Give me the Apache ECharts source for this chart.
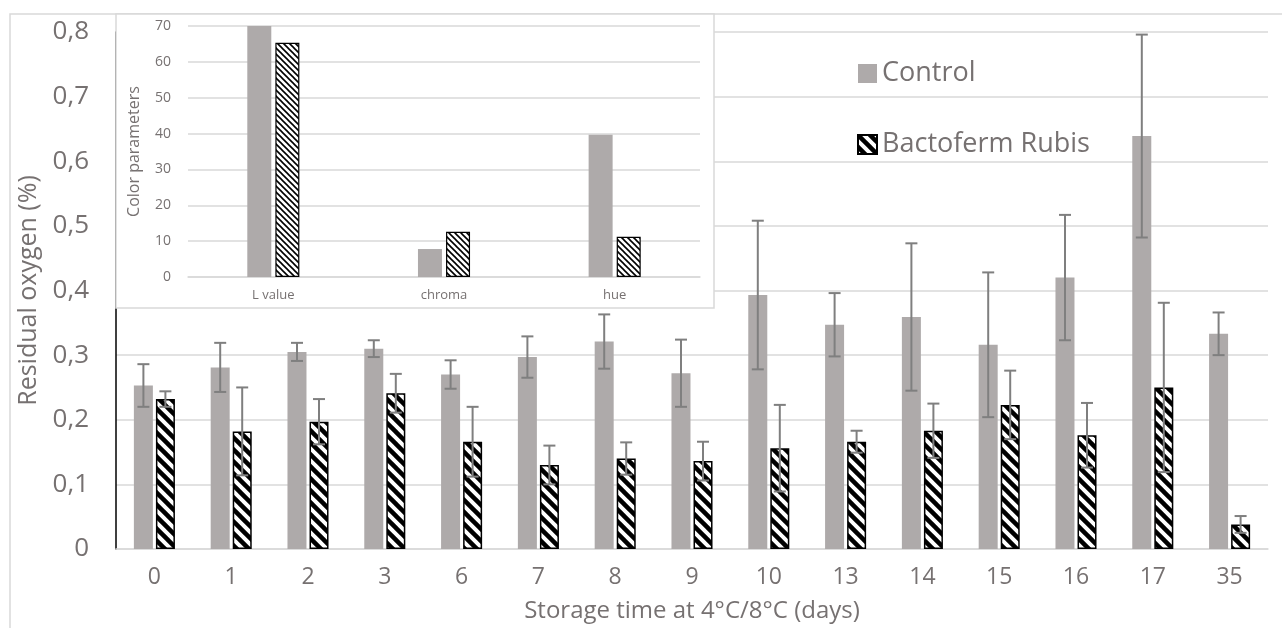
<!DOCTYPE html>
<html>
<head>
<meta charset="utf-8">
<title>Residual oxygen</title>
<script src="https://cdn.jsdelivr.net/npm/echarts@6/dist/echarts.min.js"></script>
<style>
  html, body { margin: 0; padding: 0; background: #fff; }
  #main { width: 1282px; height: 628px; }
</style>
</head>
<body>
<div id="main"></div>
<script>
// 主图数据
var days = ['0', '1', '2', '3', '6', '7', '8', '9', '10', '13', '14', '15', '16', '17', '35'];
var controlMean = [0.253, 0.281, 0.305, 0.310, 0.270, 0.297, 0.321, 0.272, 0.393, 0.347, 0.359, 0.316, 0.420, 0.639, 0.333];
var controlSd = [0.033, 0.038, 0.014, 0.013, 0.022, 0.032, 0.042, 0.052, 0.115, 0.049, 0.114, 0.112, 0.097, 0.157, 0.033];
var rubisMean = [0.232, 0.182, 0.197, 0.241, 0.166, 0.130, 0.140, 0.136, 0.156, 0.166, 0.183, 0.223, 0.176, 0.250, 0.038];
var rubisSd = [0.012, 0.068, 0.035, 0.030, 0.054, 0.030, 0.025, 0.030, 0.067, 0.017, 0.042, 0.053, 0.050, 0.131, 0.013];

// 小图数据
var colorParams = ['L value', 'chroma', 'hue'];
var colorControl = [70, 7.8, 39.7];
var colorRubis = [65.3, 12.6, 11.2];

var textColor = '#767171';
var gridColor = '#d9d9d9';
var font = 'Open Sans';

// 斜线填充
function stripes(size, width) {
  var c = document.createElement('canvas');
  c.width = size;
  c.height = size;
  var ctx = c.getContext('2d');
  ctx.fillStyle = '#fff';
  ctx.fillRect(0, 0, size, size);
  ctx.strokeStyle = '#000';
  ctx.lineWidth = width;
  for (var o = -size; o <= size; o += size) {
    ctx.beginPath();
    ctx.moveTo(o - 2, -2);
    ctx.lineTo(o + size + 2, size + 2);
    ctx.stroke();
  }
  return c;
}
var bigHatch = { image: stripes(12, 4.5), repeat: 'repeat' };
var smallHatch = { image: stripes(6, 1.6), repeat: 'repeat' };

function errData(mean, sd) {
  return mean.map(function (m, i) {
    return [i, m - sd[i], m + sd[i]];
  });
}

function errorBars(offset) {
  return function (params, api) {
    var lo = api.coord([api.value(0), api.value(1)]);
    var hi = api.coord([api.value(0), api.value(2)]);
    var x = lo[0] + offset;
    var style = { stroke: '#7f7f7f', lineWidth: 2 };
    return {
      type: 'group',
      children: [
        { type: 'line', shape: { x1: x, y1: hi[1], x2: x, y2: lo[1] }, style: style },
        { type: 'line', shape: { x1: x - 6, y1: hi[1], x2: x + 6, y2: hi[1] }, style: style },
        { type: 'line', shape: { x1: x - 6, y1: lo[1], x2: x + 6, y2: lo[1] }, style: style }
      ]
    };
  };
}

var myChart = echarts.init(document.getElementById('main'));
myChart.setOption({
  animation: false,
  textStyle: { fontFamily: font },
  graphic: [
    {
      type: 'rect', z: -10,
      shape: { x: 10, y: 14, width: 1300, height: 700 },
      style: { fill: null, stroke: gridColor, lineWidth: 1.5 }
    },
    {
      type: 'rect', z: 50,
      shape: { x: 116, y: 14, width: 598, height: 294 },
      style: { fill: '#fff', stroke: gridColor, lineWidth: 1.5 }
    }
  ],
  legend: {
    data: ['Control', 'Bactoferm Rubis'],
    orient: 'vertical',
    left: 852,
    top: 55,
    icon: 'rect',
    itemWidth: 19,
    itemHeight: 19,
    itemGap: 44,
    textStyle: { fontSize: 27, color: textColor, fontFamily: font }
  },
  grid: [
    { left: 116, right: 14, top: 32, bottom: 78 },
    { left: 188, right: 582, top: 26, bottom: 351 }
  ],
  xAxis: [
    {
      type: 'category',
      data: days,
      gridIndex: 0,
      axisTick: { show: false },
      axisLine: { lineStyle: { color: gridColor, width: 1.5 } },
      axisLabel: { fontSize: 23, color: textColor, margin: 17 },
      name: 'Storage time at 4°C/8°C (days)',
      nameLocation: 'middle',
      nameGap: 50,
      nameTextStyle: { fontSize: 24, color: textColor }
    },
    {
      type: 'category',
      data: colorParams,
      gridIndex: 1,
      z: 60,
      axisTick: { show: false },
      axisLine: { lineStyle: { color: gridColor, width: 1.5 } },
      axisLabel: { fontSize: 13, color: textColor, margin: 12 }
    }
  ],
  yAxis: [
    {
      type: 'value',
      gridIndex: 0,
      min: 0,
      max: 0.8,
      interval: 0.1,
      axisLine: { show: true, lineStyle: { color: '#000', width: 1.5 } },
      axisTick: { show: false },
      splitLine: { lineStyle: { color: gridColor, width: 1.5 } },
      axisLabel: {
        fontSize: 26,
        color: textColor,
        margin: 27,
        formatter: function (v) {
          return v === 0 ? '0' : v.toFixed(1).replace('.', ',');
        }
      },
      name: 'Residual oxygen (%)',
      nameLocation: 'middle',
      nameGap: 69,
      nameTextStyle: { fontSize: 25, color: textColor }
    },
    {
      type: 'value',
      gridIndex: 1,
      z: 60,
      min: 0,
      max: 70,
      interval: 10,
      axisLine: { show: false },
      axisTick: { show: false },
      splitLine: { lineStyle: { color: gridColor, width: 1.5 } },
      axisLabel: { fontSize: 14, color: textColor, margin: 17 },
      name: 'Color parameters',
      nameLocation: 'middle',
      nameGap: 46,
      nameTextStyle: { fontSize: 16, color: textColor }
    }
  ],
  series: [
    {
      name: 'Control',
      type: 'bar',
      xAxisIndex: 0,
      yAxisIndex: 0,
      barWidth: 19,
      barGap: '16%',
      itemStyle: { color: '#aeaaaa' },
      data: controlMean
    },
    {
      name: 'Bactoferm Rubis',
      type: 'bar',
      xAxisIndex: 0,
      yAxisIndex: 0,
      barWidth: 19,
      itemStyle: { color: bigHatch, borderColor: '#000', borderWidth: 1.5 },
      data: rubisMean
    },
    {
      name: 'Control err',
      type: 'custom',
      xAxisIndex: 0,
      yAxisIndex: 0,
      z: 5,
      renderItem: errorBars(-11),
      encode: { x: 0, y: [1, 2] },
      data: errData(controlMean, controlSd)
    },
    {
      name: 'Rubis err',
      type: 'custom',
      xAxisIndex: 0,
      yAxisIndex: 0,
      z: 5,
      renderItem: errorBars(11),
      encode: { x: 0, y: [1, 2] },
      data: errData(rubisMean, rubisSd)
    },
    {
      name: 'Control color',
      type: 'bar',
      xAxisIndex: 1,
      yAxisIndex: 1,
      z: 70,
      barWidth: 24,
      barGap: '17%',
      itemStyle: { color: '#aeaaaa' },
      data: colorControl
    },
    {
      name: 'Rubis color',
      type: 'bar',
      xAxisIndex: 1,
      yAxisIndex: 1,
      z: 70,
      barWidth: 24,
      itemStyle: { color: smallHatch, borderColor: '#000', borderWidth: 1.2 },
      data: colorRubis
    }
  ]
});
</script>
</body>
</html>
